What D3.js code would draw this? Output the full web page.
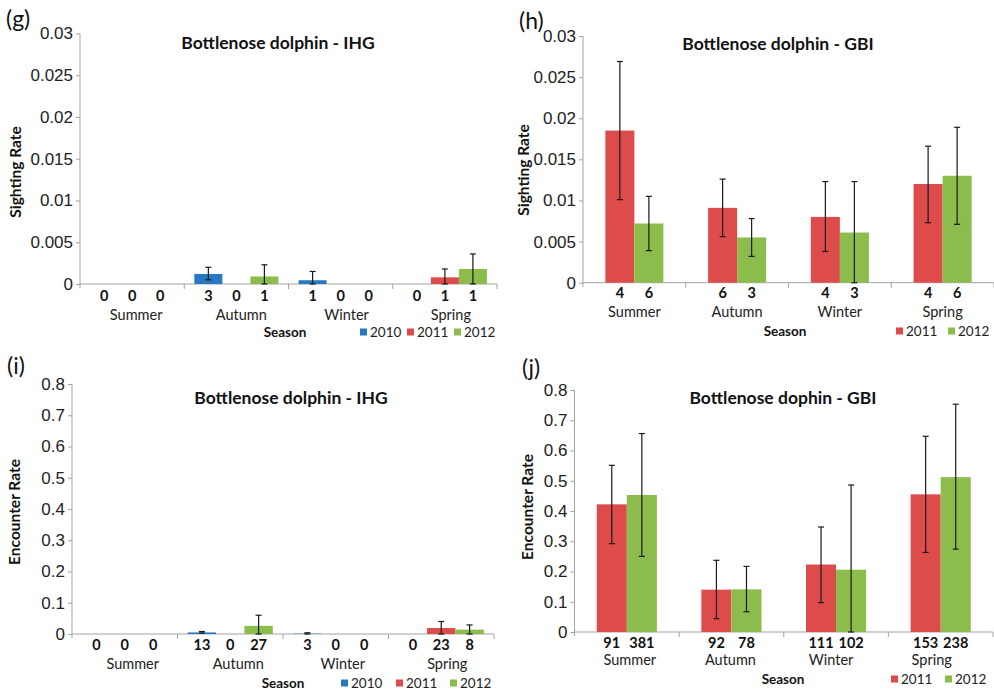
<!DOCTYPE html>
<html>
<head>
<meta charset="utf-8">
<script src="https://cdn.jsdelivr.net/npm/d3@7"></script>
<style>
  body { margin: 0; background: #fff; }
  svg { display: block; font-family: Lato, "Open Sans", sans-serif; }
  .axis path, .axis line { stroke: #a3a3a3; }
</style>
</head>
<body>
<svg id="chart" width="994" height="692"></svg>
<script>
// categories
var seasons = ["Summer", "Autumn", "Winter", "Spring"];
var yearsIHG = ["2010", "2011", "2012"];
var yearsGBI = ["2011", "2012"];
var yearColors = {"2010": "#2479c1", "2011": "#dd4b4b", "2012": "#8cbc4c"};

// tick labels
var sightTicks = [0, 0.005, 0.01, 0.015, 0.02, 0.025, 0.03];
var encTicks = [0, 0.1, 0.2, 0.3, 0.4, 0.5, 0.6, 0.7, 0.8];

// (g) sighting rate IHG  [Summer, Autumn, Winter, Spring]
var gMean2010 = [0, 0.0012, 0.00045, 0];
var gMean2011 = [0, 0, 0, 0.0008];
var gMean2012 = [0, 0.0009, 0, 0.0018];
var gLow2010 = [null, 0.0005, 0, null];
var gHigh2010 = [null, 0.0020, 0.0015, null];
var gLow2011 = [null, null, null, 0];
var gHigh2011 = [null, null, null, 0.0018];
var gLow2012 = [null, 0, null, 0];
var gHigh2012 = [null, 0.0023, null, 0.0036];
var gN2010 = [0, 3, 1, 0];
var gN2011 = [0, 0, 0, 1];
var gN2012 = [0, 1, 0, 1];

// (h) sighting rate GBI
var hMean2011 = [0.0185, 0.0091, 0.0080, 0.0120];
var hMean2012 = [0.0072, 0.0055, 0.0061, 0.0130];
var hLow2011 = [0.0101, 0.0056, 0.0038, 0.0073];
var hHigh2011 = [0.0269, 0.0126, 0.0123, 0.0166];
var hLow2012 = [0.0039, 0.0032, 0, 0.0071];
var hHigh2012 = [0.0105, 0.0078, 0.0123, 0.0189];
var hN2011 = [4, 6, 4, 4];
var hN2012 = [6, 3, 3, 6];

// (i) encounter rate IHG
var iMean2010 = [0, 0.005, 0.001, 0];
var iMean2011 = [0, 0, 0, 0.019];
var iMean2012 = [0, 0.026, 0, 0.014];
var iLow2010 = [null, 0.003, 0, null];
var iHigh2010 = [null, 0.008, 0.004, null];
var iLow2011 = [null, null, null, 0];
var iHigh2011 = [null, null, null, 0.040];
var iLow2012 = [null, 0, null, 0];
var iHigh2012 = [null, 0.060, null, 0.029];
var iN2010 = [0, 13, 3, 0];
var iN2011 = [0, 0, 0, 23];
var iN2012 = [0, 27, 0, 8];

// (j) encounter rate GBI
var jMean2011 = [0.422, 0.140, 0.223, 0.455];
var jMean2012 = [0.453, 0.141, 0.206, 0.512];
var jLow2011 = [0.292, 0.044, 0.097, 0.263];
var jHigh2011 = [0.551, 0.237, 0.347, 0.647];
var jLow2012 = [0.250, 0.067, 0, 0.274];
var jHigh2012 = [0.656, 0.217, 0.486, 0.753];
var jN2011 = [91, 92, 111, 153];
var jN2012 = [381, 78, 102, 238];

function series(years, means, lows, highs, ns){
	var out = [];
	seasons.forEach(function(s, si){
		years.forEach(function(y, yi){
			out.push({season: s, year: y, v: means[yi][si], lo: lows[yi][si], hi: highs[yi][si], n: ns[yi][si]});
		});
	});
	return out;
}

var svg = d3.select("#chart");

function drawPanel(p){
	var g = svg.append("g");
	var x = d3.scaleBand().domain(seasons).range([p.x0, p.x1]).paddingInner(0).paddingOuter(0);
	var xi = d3.scaleBand().domain(p.years).range([0, x.bandwidth()]).paddingInner(0).paddingOuter(p.outer);
	var y = d3.scaleLinear().domain([0, p.ticks[p.ticks.length - 1]]).range([p.y0, p.yTop]);

	// y axis
	g.append("g").attr("class", "axis")
		.attr("transform", "translate(" + p.x0 + ",0)")
		.call(d3.axisLeft(y).tickValues(p.ticks).tickSize(4).tickSizeOuter(0).tickPadding(3)
			.tickFormat(function(d){ return d === 0 ? "0" : String(+d.toFixed(p.dec)); }))
		.call(function(a){
			a.selectAll("text").attr("font-size", 17).attr("fill", "#222");
			a.select(".domain").attr("d", "M0," + (p.y0 + 4) + "V" + p.yTop);
		});

	// x axis line + category boundary ticks
	var xa = g.append("g").attr("class", "axis");
	xa.append("line").attr("x1", p.x0).attr("x2", p.x1).attr("y1", p.y0).attr("y2", p.y0);
	var bounds = seasons.map(function(s){ return x(s); }).concat([x(seasons[3]) + x.bandwidth()]);
	xa.selectAll(".bt").data(bounds.slice(1)).enter().append("line")
		.attr("x1", function(d){ return d; }).attr("x2", function(d){ return d; })
		.attr("y1", p.y0).attr("y2", p.y0 + 5);

	// bars
	g.selectAll(".bar").data(p.data.filter(function(d){ return d.v > 0; })).enter().append("rect")
		.attr("x", function(d){ return x(d.season) + xi(d.year); })
		.attr("width", xi.bandwidth())
		.attr("y", function(d){ return y(d.v); })
		.attr("height", function(d){ return p.y0 - y(d.v); })
		.attr("fill", function(d){ return yearColors[d.year]; });

	// error bars
	var eb = g.selectAll(".eb").data(p.data.filter(function(d){ return d.hi !== null; })).enter().append("g")
		.attr("stroke", "#1a1a1a").attr("stroke-width", 1.2);
	var cx = function(d){ return x(d.season) + xi(d.year) + xi.bandwidth() / 2; };
	eb.append("line").attr("x1", cx).attr("x2", cx)
		.attr("y1", function(d){ return y(d.lo); }).attr("y2", function(d){ return y(d.hi); });
	eb.append("line").attr("x1", function(d){ return cx(d) - 3; }).attr("x2", function(d){ return cx(d) + 3; })
		.attr("y1", function(d){ return y(d.hi); }).attr("y2", function(d){ return y(d.hi); });
	eb.append("line").attr("x1", function(d){ return cx(d) - 3; }).attr("x2", function(d){ return cx(d) + 3; })
		.attr("y1", function(d){ return y(d.lo); }).attr("y2", function(d){ return y(d.lo); });

	// sample sizes under bars
	g.selectAll(".n").data(p.data).enter().append("text")
		.attr("x", cx).attr("y", p.nY)
		.attr("text-anchor", "middle").attr("dominant-baseline", "central")
		.attr("font-size", 14.5).attr("font-weight", "bold").attr("fill", "#111")
		.text(function(d){ return d.n; });

	// season labels
	g.selectAll(".sl").data(seasons).enter().append("text")
		.attr("x", function(s, i){ return x(s) + x.bandwidth() / 2 + p.sShift[i]; }).attr("y", p.sY)
		.attr("text-anchor", "middle").attr("dominant-baseline", "central")
		.attr("font-size", 14.5).attr("fill", "#222")
		.text(function(s){ return s; });

	// axis title
	g.append("text").attr("x", p.seasonX).attr("y", p.legY)
		.attr("text-anchor", "middle").attr("dominant-baseline", "central")
		.attr("font-size", 13.5).attr("font-weight", "bold").attr("fill", "#111")
		.text("Season");

	// legend
	var lg = g.selectAll(".lg").data(p.years).enter().append("g")
		.attr("transform", function(d, i){ return "translate(" + p.legX[i] + "," + p.legY + ")"; });
	lg.append("rect").attr("x", 0).attr("y", -3.5).attr("width", 7).attr("height", 7)
		.attr("fill", function(d){ return yearColors[d]; });
	lg.append("text").attr("x", 10).attr("y", 0).attr("dominant-baseline", "central")
		.attr("font-size", 13.5).attr("fill", "#222").text(function(d){ return d; });

	// title
	g.append("text").attr("x", p.titleX).attr("y", p.titleY)
		.attr("text-anchor", "middle").attr("dominant-baseline", "central")
		.attr("font-size", 17.5).attr("font-weight", "bold").attr("fill", "#111")
		.text(p.title);

	// y label
	g.append("text").attr("transform", "translate(" + p.yLabX + "," + p.yLabY + ") rotate(-90)")
		.attr("text-anchor", "middle").attr("dominant-baseline", "central")
		.attr("font-size", 15.5).attr("font-weight", "bold").attr("fill", "#111")
		.text(p.yLabel);

	// panel letter
	g.append("text").attr("x", p.letX).attr("y", p.letY).attr("dominant-baseline", "central")
		.attr("font-size", 23).attr("fill", "#111").text(p.letter);
}

drawPanel({
	letter: "(g)", letX: 6, letY: 18,
	title: "Bottlenose dolphin - IHG", titleX: 278, titleY: 42,
	yLabel: "Sighting Rate", yLabX: 15, yLabY: 172,
	x0: 80, x1: 497, y0: 284, yTop: 33.5, ticks: sightTicks, dec: 3,
	years: yearsIHG, outer: 0.36,
	data: series(yearsIHG, [gMean2010, gMean2011, gMean2012], [gLow2010, gLow2011, gLow2012], [gHigh2010, gHigh2011, gHigh2012], [gN2010, gN2011, gN2012]),
	nY: 295, sY: 314, sShift: [4, 5, 6, 6], seasonX: 285, legY: 332, legX: [360, 407, 454]
});

drawPanel({
	letter: "(h)", letX: 519, letY: 20,
	title: "Bottlenose dolphin - GBI", titleX: 778, titleY: 43,
	yLabel: "Sighting Rate", yLabX: 523, yLabY: 170,
	x0: 583, x1: 994, y0: 282.7, yTop: 36, ticks: sightTicks, dec: 3,
	years: yearsGBI, outer: 0.77,
	data: series(yearsGBI, [hMean2011, hMean2012], [hLow2011, hLow2012], [hHigh2011, hHigh2012], [hN2011, hN2012]),
	nY: 292, sY: 311, sShift: [0, 0, 0, 0], seasonX: 785, legY: 331, legX: [896, 948]
});

drawPanel({
	letter: "(i)", letX: 7, letY: 365,
	title: "Bottlenose dolphin - IHG", titleX: 291, titleY: 397,
	yLabel: "Encounter Rate", yLabX: 14, yLabY: 512,
	x0: 72, x1: 494, y0: 634, yTop: 384, ticks: encTicks, dec: 1,
	years: yearsIHG, outer: 0.36,
	data: series(yearsIHG, [iMean2010, iMean2011, iMean2012], [iLow2010, iLow2011, iLow2012], [iHigh2010, iHigh2011, iHigh2012], [iN2010, iN2011, iN2012]),
	nY: 644, sY: 663, sShift: [8, 8, 7, 6], seasonX: 283, legY: 683, legX: [341, 396, 450]
});

drawPanel({
	letter: "(j)", letX: 522, letY: 367,
	title: "Bottlenose dophin - GBI", titleX: 783, titleY: 397,
	yLabel: "Encounter Rate", yLabX: 527, yLabY: 507,
	x0: 574.5, x1: 993, y0: 632, yTop: 390, ticks: encTicks, dec: 1,
	years: yearsGBI, outer: 0.74,
	data: series(yearsGBI, [jMean2011, jMean2012], [jLow2011, jLow2012], [jHigh2011, jHigh2012], [jN2011, jN2012]),
	nY: 642, sY: 659, sShift: [3, -1, -5, -9], seasonX: 783, legY: 679, legX: [891, 945]
});
</script>
</body>
</html>
